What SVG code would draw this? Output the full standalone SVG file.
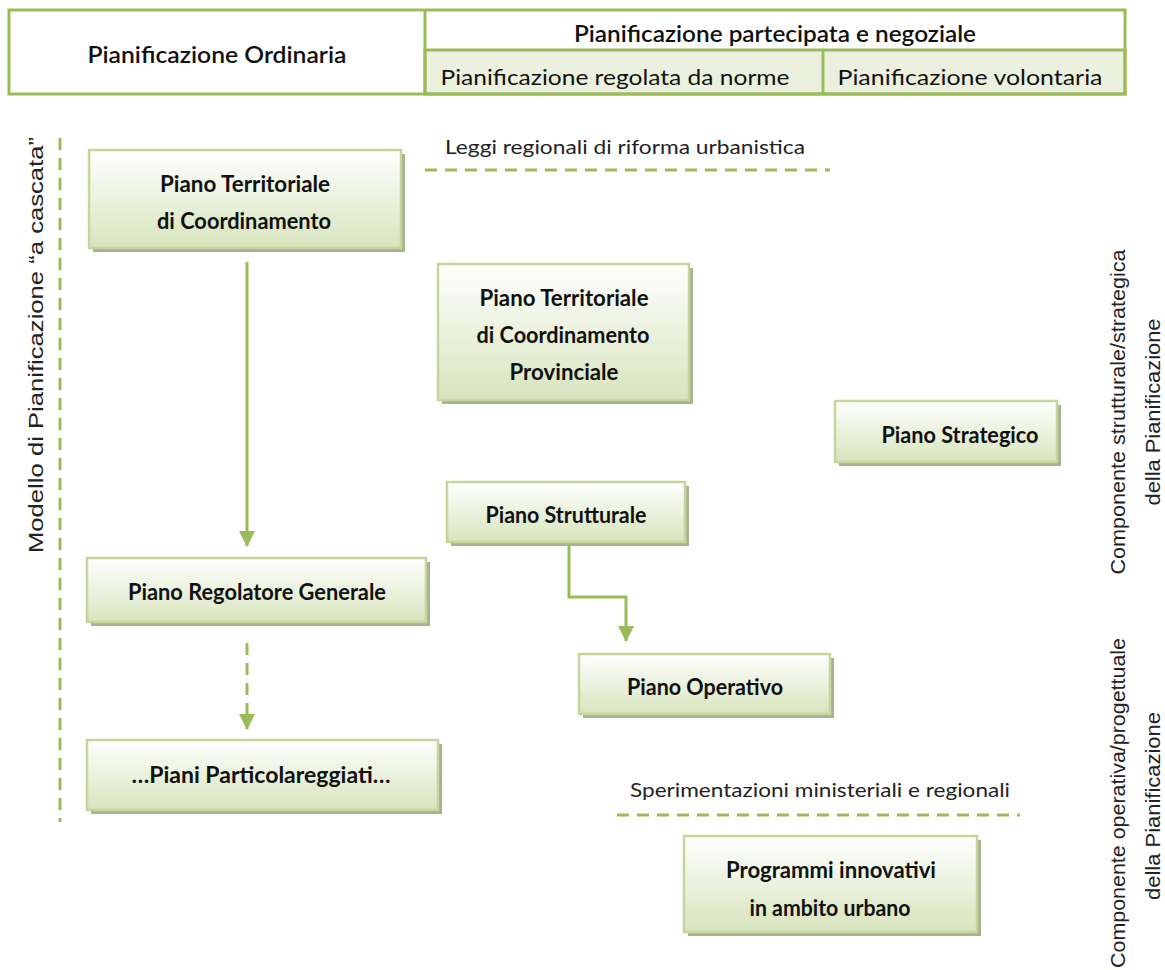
<svg xmlns="http://www.w3.org/2000/svg" width="1165" height="970" viewBox="0 0 1165 970">
  <defs>
    <linearGradient id="boxFill" x1="0" y1="0" x2="0" y2="1">
      <stop offset="0" stop-color="#FFFFFF"/>
      <stop offset="1" stop-color="#D7E4BD"/>
    </linearGradient>
    <marker id="arrowDown" viewBox="0 0 16 16" refX="8" refY="15" markerWidth="16" markerHeight="16" markerUnits="userSpaceOnUse">
      <path d="M0,0 L16,0 L8,16 Z" fill="#9BBB59"/>
    </marker>
  </defs>
  <style>
    .hdr { fill: none; stroke: #9BBB59; stroke-width: 3; }
    .sub { fill: #EBF1DE; stroke: #9BBB59; stroke-width: 3; }
    .shadow { fill: #A9B28E; }
    .box { fill: url(#boxFill); stroke: #C3D69B; stroke-width: 2.5; }
    .lbl { font-family: Lato, "Liberation Sans", sans-serif; font-weight: 700; font-size: 22px; fill: #111; text-anchor: middle; }
    .hd { font-family: Lato, "Liberation Sans", sans-serif; font-weight: 600; font-size: 22px; fill: #111; text-anchor: middle; }
    .hn { font-family: Lato, "Liberation Sans", sans-serif; font-weight: 400; font-size: 22px; fill: #111; text-anchor: middle; }
    .note { font-family: Lato, "Liberation Sans", sans-serif; font-weight: 400; font-size: 19px; fill: #222; text-anchor: middle; }
    .side { font-family: "Liberation Sans Narrow", "Liberation Sans", sans-serif; font-size: 21px; fill: #222; text-anchor: middle; }
    .dash { fill: none; stroke: #9BBB59; stroke-width: 3; stroke-dasharray: 12 8; }
    .conn { fill: none; stroke: #9BBB59; stroke-width: 3; }
  </style>

  <!-- header table -->
  <g id="header">
    <rect class="sub" x="425" y="50" width="700" height="44"/>
    <rect class="hdr" x="9" y="10" width="1116" height="84"/>
    <line class="hdr" x1="425" y1="10" x2="425" y2="94"/>
    <line class="hdr" x1="823" y1="50" x2="823" y2="94"/>
    <text class="hd" x="217" y="63" textLength="259" lengthAdjust="spacingAndGlyphs">Pianificazione Ordinaria</text>
    <text class="hd" x="775" y="42" textLength="402" lengthAdjust="spacingAndGlyphs">Pianificazione partecipata e negoziale</text>
    <text class="hn" x="615" y="85" textLength="349" lengthAdjust="spacingAndGlyphs">Pianificazione regolata da norme</text>
    <text class="hn" x="970" y="85" textLength="265" lengthAdjust="spacingAndGlyphs">Pianificazione volontaria</text>
  </g>

  <!-- guide lines and side captions -->
  <g id="guides">
    <line class="dash" x1="60" y1="138" x2="60" y2="822"/>
    <line class="dash" x1="425" y1="170" x2="830" y2="170"/>
    <line class="dash" x1="617" y1="815" x2="1020" y2="815"/>
    <text class="note" x="625" y="154" textLength="360" lengthAdjust="spacingAndGlyphs">Leggi regionali di riforma urbanistica</text>
    <text class="note" x="820" y="797" textLength="380" lengthAdjust="spacingAndGlyphs">Sperimentazioni ministeriali e regionali</text>
    <text class="side" transform="translate(43,345) rotate(-90)" textLength="416" lengthAdjust="spacingAndGlyphs">Modello di Pianificazione  “a cascata”</text>
    <text class="side" transform="translate(1125,412) rotate(-90)" textLength="325" lengthAdjust="spacingAndGlyphs">Componente strutturale/strategica</text>
    <text class="side" transform="translate(1160,412) rotate(-90)" textLength="187" lengthAdjust="spacingAndGlyphs">della Pianificazione</text>
    <text class="side" transform="translate(1125,803) rotate(-90)" textLength="330" lengthAdjust="spacingAndGlyphs">Componente operativa/progettuale</text>
    <text class="side" transform="translate(1160,806) rotate(-90)" textLength="188" lengthAdjust="spacingAndGlyphs">della Pianificazione</text>
  </g>

  <!-- connectors -->
  <g id="connectors">
    <line class="conn" x1="247" y1="262" x2="247" y2="546" marker-end="url(#arrowDown)"/>
    <line class="conn" x1="247" y1="643" x2="247" y2="729" stroke-dasharray="12 8" marker-end="url(#arrowDown)"/>
    <polyline class="conn" points="569,544 569,597 626,597 626,641" marker-end="url(#arrowDown)"/>
  </g>

  <g id="ptc">
    <rect class="shadow" x="93" y="154" width="312" height="98"/>
    <rect class="box" x="89" y="150" width="312" height="98"/>
    <text class="lbl" x="245" y="192" textLength="170" lengthAdjust="spacingAndGlyphs">Piano Territoriale</text>
    <text class="lbl" x="244" y="229" textLength="174" lengthAdjust="spacingAndGlyphs">di Coordinamento</text>
  </g>

  <g id="ptcp">
    <rect class="shadow" x="442" y="268" width="251" height="136"/>
    <rect class="box" x="438" y="264" width="251" height="136"/>
    <text class="lbl" x="564" y="306" textLength="169" lengthAdjust="spacingAndGlyphs">Piano Territoriale</text>
    <text class="lbl" x="563" y="343" textLength="173" lengthAdjust="spacingAndGlyphs">di Coordinamento</text>
    <text class="lbl" x="564" y="380" textLength="109" lengthAdjust="spacingAndGlyphs">Provinciale</text>
  </g>

  <g id="strategico">
    <rect class="shadow" x="839" y="405" width="222" height="61"/>
    <rect class="box" x="835" y="401" width="222" height="61"/>
    <text class="lbl" x="960" y="443" textLength="157" lengthAdjust="spacingAndGlyphs">Piano Strategico</text>
  </g>

  <g id="strutturale">
    <rect class="shadow" x="451" y="486" width="238" height="60"/>
    <rect class="box" x="447" y="482" width="238" height="60"/>
    <text class="lbl" x="566" y="523" textLength="161" lengthAdjust="spacingAndGlyphs">Piano Strutturale</text>
  </g>

  <g id="prg">
    <rect class="shadow" x="91" y="562" width="339" height="64"/>
    <rect class="box" x="87" y="558" width="339" height="64"/>
    <text class="lbl" x="257" y="600" textLength="258" lengthAdjust="spacingAndGlyphs">Piano Regolatore Generale</text>
  </g>

  <g id="particolareggiati">
    <rect class="shadow" x="91" y="744" width="351" height="70"/>
    <rect class="box" x="87" y="740" width="351" height="70"/>
    <text class="lbl" x="261" y="783" textLength="259" lengthAdjust="spacingAndGlyphs">…Piani Particolareggiati…</text>
  </g>

  <g id="operativo">
    <rect class="shadow" x="583" y="658" width="251" height="60"/>
    <rect class="box" x="579" y="654" width="251" height="60"/>
    <text class="lbl" x="705" y="695" textLength="156" lengthAdjust="spacingAndGlyphs">Piano Operativo</text>
  </g>

  <g id="programmi">
    <rect class="shadow" x="688" y="840" width="293" height="96"/>
    <rect class="box" x="684" y="836" width="293" height="96"/>
    <text class="lbl" x="831" y="878" textLength="210" lengthAdjust="spacingAndGlyphs">Programmi innovativi</text>
    <text class="lbl" x="830" y="916" textLength="161" lengthAdjust="spacingAndGlyphs">in ambito urbano</text>
  </g>
</svg>
